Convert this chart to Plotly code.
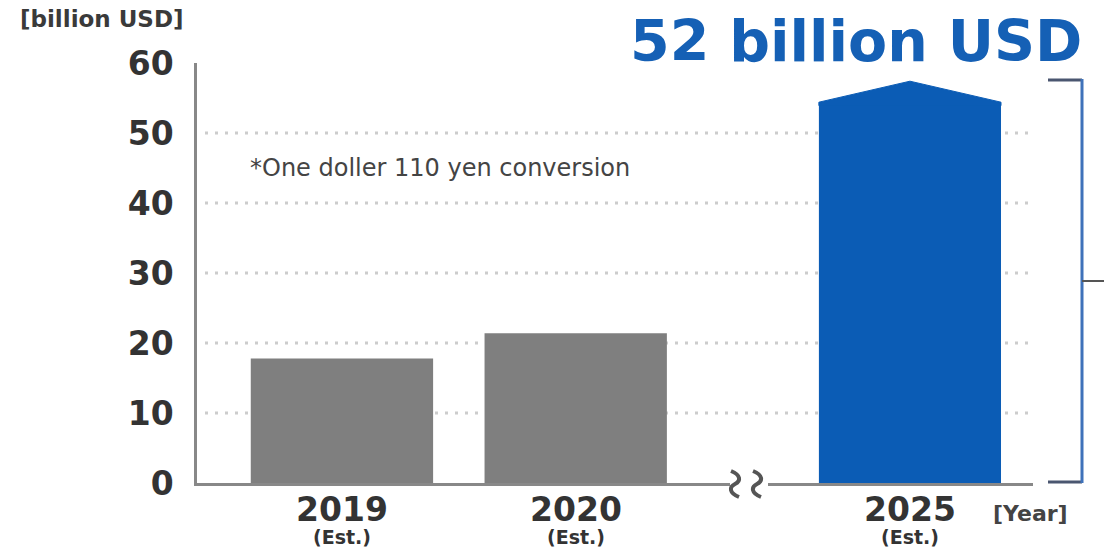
import plotly.graph_objects as go

# ---- data ----
years = ["2019", "2020", "2025"]
year_notes = ["(Est.)", "(Est.)", "(Est.)"]
values = [17.8, 21.4, 54.4]          # billion USD (bar shoulders)
arrow_tip_2025 = 57.4                # apex of the arrow-shaped 2025 bar
y_ticks = [0, 10, 20, 30, 40, 50, 60]
title_text = "52 billion USD"
unit_text = "[billion USD]"
year_unit = "[Year]"
note_text = "*One doller 110 yen conversion"

W, H = 1104, 547
def fx(px): return px / W
def fy(py): return 1 - py / H

GRAY_BAR = "#7f7f7f"
BLUE = "#0b5cb5"
TXT = "#333333"
FONT = "DejaVu Sans"
bw = 0.78

fig = go.Figure()

# gray bars (before the axis break)
fig.add_trace(go.Bar(x=[0, 1], y=values[:2], width=bw, marker=dict(color=GRAY_BAR, line=dict(width=0)),
                     xaxis="x", yaxis="y", hoverinfo="skip"))
# blue bar (after the axis break)
fig.add_trace(go.Bar(x=[0], y=values[2:], width=bw, marker=dict(color=BLUE, line=dict(width=0)),
                     xaxis="x2", yaxis="y", hoverinfo="skip"))
# arrow head on the 2025 bar
v = values[2]
fig.add_trace(go.Scatter(x=[-bw / 2, -bw / 2, 0, bw / 2, bw / 2],
                         y=[v - 0.5, v, arrow_tip_2025, v, v - 0.5],
                         fill="toself", fillcolor=BLUE, mode="lines",
                         line=dict(color=BLUE, width=1), xaxis="x2", yaxis="y", hoverinfo="skip"))

shapes = []
# dotted gridlines
for t in y_ticks[1:-1]:
    shapes.append(dict(type="line", xref="paper", yref="y", x0=fx(205), x1=fx(1035), y0=t, y1=t,
                       line=dict(color="#cccccc", width=3, dash="3px,7px"), layer="below"))

# axis break squiggles
def squiggle(cx):
    pts = [(cx - 4, 471), (cx + 6, 475), (cx + 6, 481), (cx, 484),
           (cx - 6, 487), (cx - 6, 493), (cx + 4, 497)]
    p = [f"{fx(a):.5f},{fy(b):.5f}" for a, b in pts]
    return f"M {p[0]} C {p[1]} {p[2]} {p[3]} C {p[4]} {p[5]} {p[6]}"
for cx in (735, 757):
    shapes.append(dict(type="path", xref="paper", yref="paper", path=squiggle(cx),
                       line=dict(color="#555555", width=4)))

# right bracket
def pline(x0, y0, x1, y1, color, width):
    return dict(type="line", xref="paper", yref="paper", x0=fx(x0), y0=fy(y0), x1=fx(x1), y1=fy(y1),
                line=dict(color=color, width=width))
shapes.append(pline(1048, 80, 1082, 80, "#4a5670", 3))
shapes.append(pline(1048, 482, 1082, 482, "#4a5670", 3))
shapes.append(pline(1082, 79, 1082, 483, "#3f72ba", 3))
shapes.append(pline(1082, 281, 1104, 281, "#555555", 2))

annotations = [
    dict(text=title_text, x=fx(856), y=fy(41), xref="paper", yref="paper", showarrow=False,
         xanchor="center", yanchor="middle", font=dict(family=FONT, size=57, color="#1560b5", weight="bold")),
    dict(text=unit_text, x=fx(18), y=fy(19), xref="paper", yref="paper", showarrow=False,
         xanchor="left", yanchor="middle", font=dict(family=FONT, size=23, color="#3a3a3a", weight="bold")),
    dict(text=note_text, x=fx(248), y=fy(168), xref="paper", yref="paper", showarrow=False,
         xanchor="left", yanchor="middle", font=dict(family=FONT, size=24, color="#444444")),
    dict(text=year_unit, x=fx(1030), y=fy(513), xref="paper", yref="paper", showarrow=False,
         xanchor="center", yanchor="middle", font=dict(family=FONT, size=22, color="#444444", weight="bold")),
]
# year labels and "(Est.)" labels under each bar
label_axes = ["x", "x", "x2"]
label_pos = [0, 1, 0]
for ax, pos, yr, n in zip(label_axes, label_pos, years, year_notes):
    annotations.append(dict(text=yr, x=pos, xref=ax, y=fy(509), yref="paper", showarrow=False,
                            xanchor="center", yanchor="middle",
                            font=dict(family=FONT, size=33, color=TXT, weight="bold")))
    annotations.append(dict(text=n, x=pos, xref=ax, y=fy(537), yref="paper", showarrow=False,
                            xanchor="center", yanchor="middle",
                            font=dict(family=FONT, size=19, color=TXT, weight="bold")))

axis_common = dict(showgrid=False, zeroline=False, showline=True, linecolor="#888888", linewidth=2.5,
                   ticks="", showticklabels=False, fixedrange=True, automargin=False)

fig.update_layout(
    width=W, height=H, margin=dict(l=0, r=0, t=0, b=0),
    paper_bgcolor="white", plot_bgcolor="white", showlegend=False,
    xaxis=dict(domain=[fx(197), fx(730)], range=[-0.62, 1.66], anchor="y", **axis_common),
    xaxis2=dict(domain=[fx(768), fx(1033)], range=[-0.608, 0.527], anchor="y", **axis_common),
    yaxis=dict(domain=[fy(483), fy(63)], range=[0, 60], tickvals=y_ticks, anchor="x",
               showgrid=False, zeroline=False, showline=True, linecolor="#888888", linewidth=2.5,
               ticks="", tickfont=dict(family=FONT, size=33, color=TXT, weight="bold"),
               fixedrange=True, automargin=False, ticklabelstandoff=14),
    shapes=shapes, annotations=annotations,
)

fig.write_html("out.html", config={"displayModeBar": False},
               post_script="document.body.style.margin='0';document.body.style.overflow='hidden';")
